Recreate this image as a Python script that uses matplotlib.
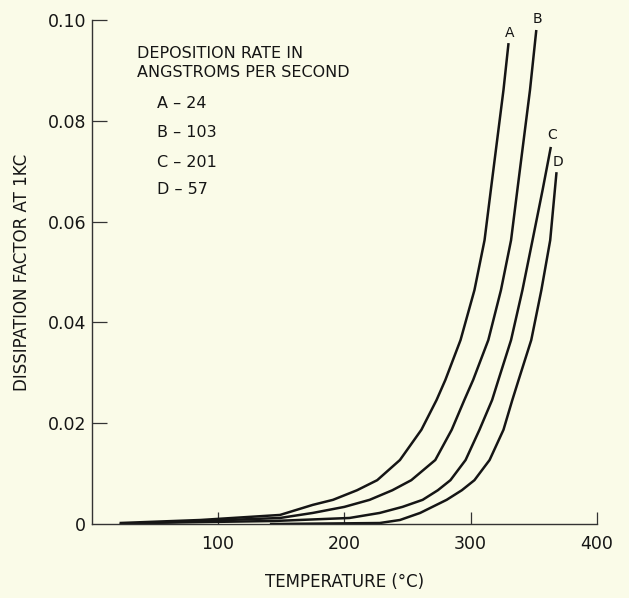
import matplotlib
matplotlib.use("Agg")
import matplotlib.pyplot as plt

# curve readings (temperature degC, dissipation factor)
a_temp = [22, 86, 149, 175, 191, 210, 226, 244, 261, 273, 280, 292, 303, 311, 316, 321, 326, 330]
a_df = [0.0002, 0.0008, 0.0018, 0.0038, 0.0048, 0.0067, 0.0087, 0.0127, 0.0187, 0.0246,
        0.0286, 0.0365, 0.0464, 0.0563, 0.0663, 0.0762, 0.0861, 0.0954]

b_temp = [22, 86, 149, 175, 200, 220, 238, 253, 272, 285, 295, 302, 314, 324, 332, 337, 342, 347, 352]
b_df = [0.0, 0.0006, 0.0012, 0.0022, 0.0034, 0.0048, 0.0067, 0.0087, 0.0127, 0.0187,
        0.0246, 0.0286, 0.0365, 0.0464, 0.0563, 0.0663, 0.0762, 0.0861, 0.098]

c_temp = [38, 144, 204, 228, 246, 262, 274, 284, 296, 307, 317, 322, 332, 341, 349, 357, 363.5]
c_df = [0.0002, 0.0006, 0.0012, 0.0022, 0.0034, 0.0048, 0.0067, 0.0087, 0.0127, 0.0187,
        0.0246, 0.0286, 0.0365, 0.0464, 0.0563, 0.0663, 0.0748]

d_temp = [141, 228, 244, 260, 281, 293, 303, 315, 326, 333, 338, 348, 356, 363, 368]
d_df = [0.0, 0.0002, 0.0008, 0.0022, 0.0048, 0.0067, 0.0087, 0.0127, 0.0187, 0.0246,
        0.0286, 0.0365, 0.0464, 0.0563, 0.0698]

curve_names = ["A", "B", "C", "D"]
rates = ["24", "103", "201", "57"]
x_ticks = [100, 200, 300, 400]
y_ticks = [0, 0.02, 0.04, 0.06, 0.08, 0.10]
y_tick_labels = ["0", "0.02", "0.04", "0.06", "0.08", "0.10"]

bg = "#fafbe8"
ink = "#151515"
font = "DejaVu Sans"

fig = plt.figure(figsize=(6.29, 5.98), dpi=100, facecolor=bg)
ax = fig.add_axes([0.146, 0.1237, 0.803, 0.843])
ax.set_facecolor(bg)

curves = [(a_temp, a_df), (b_temp, b_df), (c_temp, c_df), (d_temp, d_df)]
for t, d in curves:
    ax.plot(t, d, color=ink, lw=1.8, solid_capstyle="butt", solid_joinstyle="round")

# curve end labels
label_pos = [(331, 0.0975), (353, 0.1002), (364.5, 0.0772), (369.5, 0.0718)]
for name, (lx, ly) in zip(curve_names, label_pos):
    ax.text(lx, ly, name, fontsize=10, ha="center", va="center", color=ink,
            family=font, clip_on=False)

ax.text(35.5, 0.0934, "DEPOSITION RATE IN", fontsize=11.5, ha="left", va="center",
        color=ink, family=font)
ax.text(35.5, 0.0895, "ANGSTROMS PER SECOND", fontsize=11.5, ha="left", va="center",
        color=ink, family=font)
entry_y = [0.0835, 0.0777, 0.0718, 0.0663]
for name, rate, ey in zip(curve_names, rates, entry_y):
    ax.text(52, ey, f"{name} \u2013 {rate}", fontsize=11.5, ha="left", va="center",
            color=ink, family=font)

ax.set_xlim(0, 400)
ax.set_ylim(0, 0.10)
for side in ["top", "right"]:
    ax.spines[side].set_visible(False)
for side in ["left", "bottom"]:
    ax.spines[side].set_color("#333333")
    ax.spines[side].set_linewidth(1.0)

ax.set_xticks(x_ticks)
ax.set_xticklabels([str(v) for v in x_ticks], family=font, fontsize=12.5)
ax.set_yticks(y_ticks)
ax.set_yticklabels(y_tick_labels, family=font, fontsize=12.5)
ax.tick_params(axis="x", direction="in", length=9, width=0.9, pad=8, colors="#333333",
               labelcolor=ink)
ax.tick_params(axis="y", direction="in", length=11, width=0.9, pad=4, colors="#333333",
               labelcolor=ink)
ax.yaxis.get_major_ticks()[0].tick1line.set_visible(False)

ax.set_xlabel("TEMPERATURE (\u00b0C)", fontsize=12, family=font, color=ink,
              labelpad=14)
ax.set_ylabel("DISSIPATION FACTOR AT 1KC", fontsize=12, family=font, color=ink,
              labelpad=12)

fig.savefig("out.png", dpi=100, facecolor=bg)
